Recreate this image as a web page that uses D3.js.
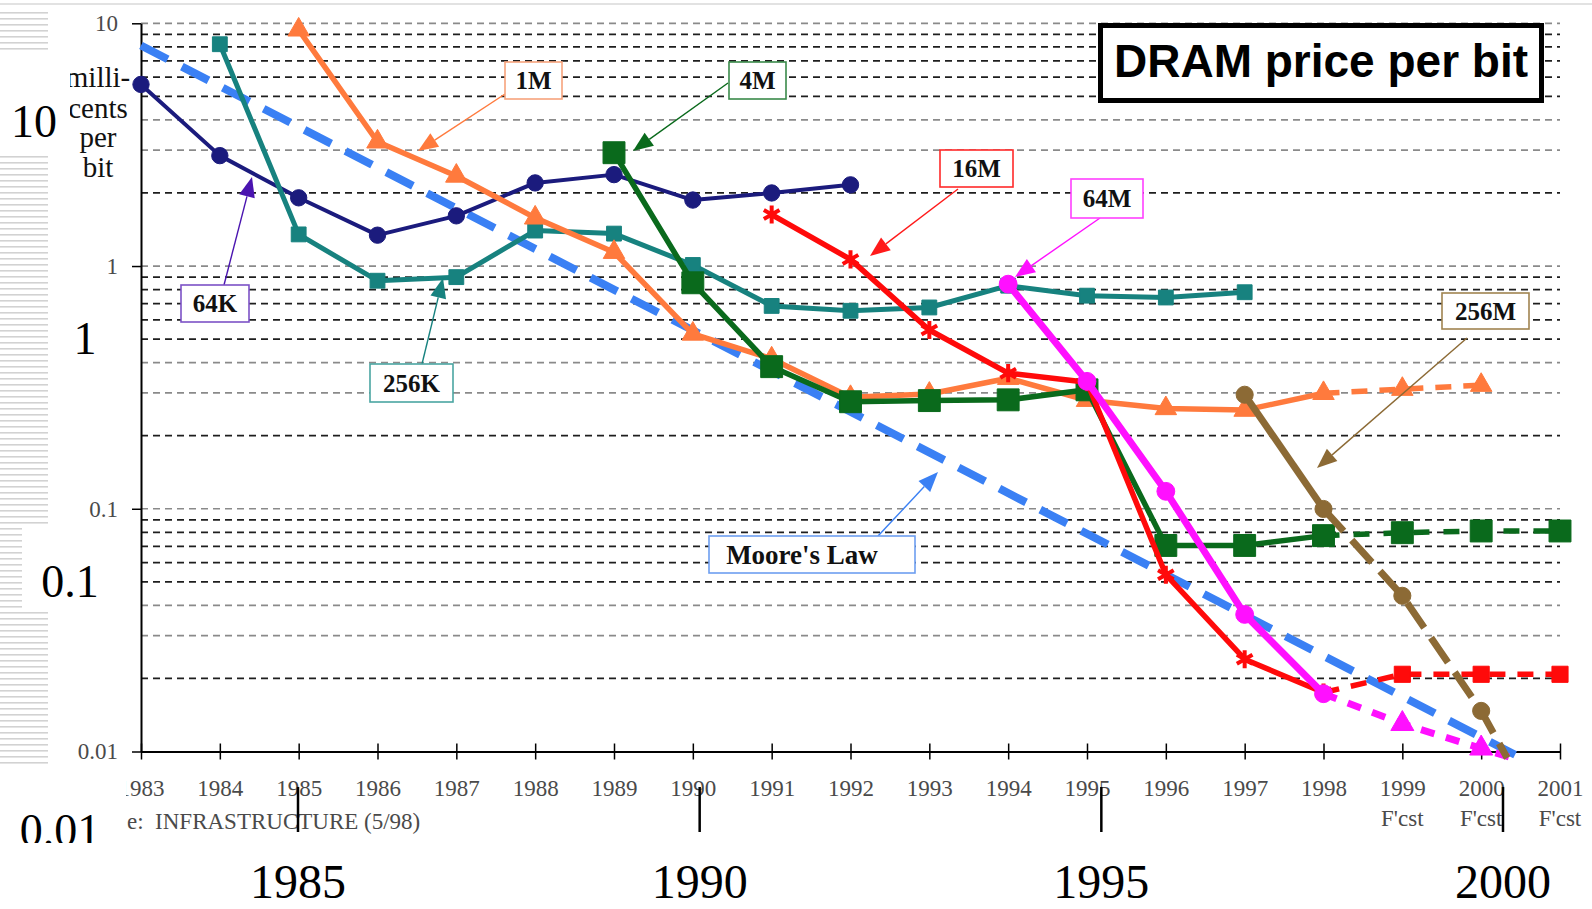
<!DOCTYPE html>
<html>
<head>
<meta charset="utf-8">
<script src="https://cdn.jsdelivr.net/npm/d3@7"></script>
<style>
  body { margin: 0; background: #fff; }
  svg { display: block; }
</style>
</head>
<body>
<svg id="chart"></svg>
<script>
"use strict";
// values (millicents per bit)
var yearsMoore = [1983, 2000.43];
var priceMoore = [8.1, 0.0097];

var years64K = [1983, 1984, 1985, 1986, 1987, 1988, 1989, 1990, 1991, 1992];
var price64K = [5.6, 2.85, 1.91, 1.34, 1.61, 2.2, 2.38, 1.87, 2.0, 2.16];

var years256K = [1984, 1985, 1986, 1987, 1988, 1989, 1990, 1991, 1992, 1993, 1994, 1995, 1996, 1997];
var price256K = [8.2, 1.35, 0.87, 0.9, 1.4, 1.36, 1.01, 0.685, 0.654, 0.675, 0.83, 0.755, 0.742, 0.78];

var years1M = [1985, 1986, 1987, 1988, 1989, 1990, 1991, 1992, 1993, 1994, 1995, 1996, 1997, 1998, 1999, 2000];
var price1M = [9.4, 3.25, 2.35, 1.58, 1.14, 0.525, 0.415, 0.288, 0.297, 0.345, 0.28, 0.259, 0.255, 0.299, 0.311, 0.323];

var years4M = [1989, 1990, 1991, 1992, 1993, 1994, 1995, 1996, 1997, 1998, 1999, 2000, 2001];
var price4M = [2.93, 0.853, 0.385, 0.276, 0.279, 0.281, 0.309, 0.0706, 0.0706, 0.0775, 0.0797, 0.081, 0.081];

var years16M = [1991, 1992, 1993, 1994, 1995, 1996, 1997, 1998, 1999, 2000, 2001];
var price16M = [1.63, 1.065, 0.545, 0.362, 0.332, 0.0535, 0.024, 0.0175, 0.0208, 0.0208, 0.0208];

var years64M = [1994, 1995, 1996, 1997, 1998, 1999, 2000, 2000.4];
var price64M = [0.842, 0.335, 0.118, 0.0367, 0.0173, 0.013, 0.0103, 0.0094];

var years256M = [1997, 1998, 1999, 2000, 2000.33];
var price256M = [0.295, 0.0998, 0.0438, 0.0147, 0.0094];

var tickYears = [1983, 1984, 1985, 1986, 1987, 1988, 1989, 1990, 1991, 1992,
                 1993, 1994, 1995, 1996, 1997, 1998, 1999, 2000, 2001];
var forecastYears = [1999, 2000, 2001];
var forecastFrom = 1998;
var yTickValues = [10, 1, 0.1, 0.01];
var bigXLabels = [1985, 1990, 1995, 2000];
var bigYLabels = [10, 1, 0.1, 0.01];

var W = 1592, H = 909;
var svg = d3.select("#chart").attr("width", W).attr("height", H);

var x = d3.scaleLinear().domain([1983, 2001]).range([141, 1560]);
var y = d3.scaleLog().domain([0.01, 10]).range([751.5, 23.3]);
// the slide's own (larger) axis labels sit on a slightly different grid
var bigX = d3.scaleLinear().domain([1985, 2000]).range([298, 1503]);
var bigY = d3.scaleLinear().domain([1, 0, -1, -2]).range([137, 354, 597, 846]);

var serif = "'Liberation Serif', 'Times New Roman', serif";

// faint line along the top of the slide
svg.append("rect").attr("x", 0).attr("y", 3).attr("width", W).attr("height", 2).attr("fill", "#e2e2e2");

// striped strip on the left edge
var defs = svg.append("defs");
var pat = defs.append("pattern").attr("id", "stripes").attr("patternUnits", "userSpaceOnUse")
  .attr("width", 10).attr("height", 6);
pat.append("rect").attr("width", 10).attr("height", 1.6).attr("fill", "#d2d2d2");
svg.append("rect").attr("x", 0).attr("y", 11).attr("width", 48).attr("height", 758).attr("fill", "url(#stripes)");

var plot = svg.append("g");

// dashed log grid
var gridVals = y.ticks().filter(function(v) { return v > 0.0101; });
plot.selectAll(".grid").data(gridVals).enter().append("line")
  .attr("x1", x(1983)).attr("x2", x(2001))
  .attr("y1", function(d) { return y(d); }).attr("y2", function(d) { return y(d); })
  .attr("stroke", function(d) {
    var m = Math.round(d / Math.pow(10, Math.floor(Math.log10(d) + 1e-9)));
    return (m == 1 || m == 3 || m == 4) ? "#8a8a8a" : "#1e1e1e";
  })
  .attr("stroke-width", 1.7).attr("stroke-dasharray", "7,5");

// axes
var yAxis = plot.append("g").attr("transform", "translate(" + x(1983) + ",0)")
  .call(d3.axisLeft(y).tickValues(yTickValues).tickSize(9).tickSizeOuter(0)
    .tickFormat(function(d) { return d3.format("~g")(d); }));
yAxis.select(".domain").attr("stroke", "#000").attr("stroke-width", 2);
yAxis.selectAll(".tick line").attr("stroke", "#000").attr("stroke-width", 1.5);
yAxis.selectAll(".tick text").attr("x", -23).attr("font-family", serif).attr("font-size", 23).attr("fill", "#4a4a4a");

var xAxis = plot.append("g").attr("transform", "translate(0," + y(0.01) + ")")
  .call(d3.axisBottom(x).tickValues(tickYears).tickSize(8).tickSizeOuter(0).tickFormat(d3.format("d")));
xAxis.select(".domain").attr("stroke", "#000").attr("stroke-width", 2);
xAxis.selectAll(".tick line").attr("y1", -8).attr("stroke", "#000").attr("stroke-width", 1.5);
xAxis.selectAll(".tick text").attr("y", 44).attr("dy", null)
  .attr("font-family", serif).attr("font-size", 23).attr("fill", "#4a4a4a");
xAxis.selectAll(".fcst").data(forecastYears).enter().append("text")
  .attr("x", function(d) { return x(d); }).attr("y", 74).attr("text-anchor", "middle")
  .attr("font-family", serif).attr("font-size", 23).attr("fill", "#4a4a4a").text("F'cst");

// y axis title
var ylab = ["milli-", "cents", "per", "bit"];
var ylabBase = [87, 118, 147, 177];
plot.selectAll(".ylab").data(ylab).enter().append("text")
  .attr("x", 98).attr("y", function(d, i) { return ylabBase[i]; })
  .attr("text-anchor", "middle").attr("font-family", serif).attr("font-size", 29).attr("fill", "#111")
  .text(function(d) { return d; });

// source note (its start is hidden under the big 0.01 patch)
plot.append("text").attr("x", 127).attr("y", 829)
  .attr("font-family", serif).attr("font-size", 23).attr("fill", "#4a4a4a")
  .attr("xml:space", "preserve").text("e:  INFRASTRUCTURE (5/98)");

// series
var series = [
  { years: years64K, price: price64K, color: "#1b1b7d", width: 4, shape: d3.symbolCircle, size: 210 },
  { years: years256K, price: price256K, color: "#17827f", width: 5, shape: d3.symbolSquare, size: 220 },
  { years: years1M, price: price1M, color: "#ff7a3d", width: 5.5, shape: d3.symbolTriangle, size: 200, dash: "16,12" },
  { years: years4M, price: price4M, color: "#0a6a1c", width: 5.5, shape: d3.symbolSquare, size: 480, dash: "16,14" },
  { years: years16M, price: price16M, color: "#ff0a0a", width: 5.5, shape: d3.symbolAsterisk, size: 230,
    fshape: d3.symbolSquare, fsize: 260, dash: "16,12" },
  { years: years64M, price: price64M, color: "#ff10ff", width: 7, shape: d3.symbolCircle, size: 250,
    fshape: d3.symbolTriangle, fsize: 230, dash: "14,12" },
  { years: years256M, price: price256M, color: "#8c6a35", width: 7, shape: d3.symbolCircle, size: 230, dash: "30,12" }
];

var line = d3.line().x(function(d) { return x(d.yr); }).y(function(d) { return y(d.v); });

// Moore's law reference line, behind everything
plot.append("path")
  .attr("d", line(yearsMoore.map(function(yr, i) { return { yr: yr, v: priceMoore[i] }; })))
  .attr("fill", "none").attr("stroke", "#3a80f4").attr("stroke-width", 8)
  .attr("stroke-dasharray", "30,16");

series.forEach(function(s) {
  var p = s.years.map(function(yr, i) { return { yr: yr, v: s.price[i] }; });
  var solid = p.filter(function(d) { return d.yr <= forecastFrom; });
  var dashed = p.filter(function(d) { return d.yr >= forecastFrom; });
  var g = plot.append("g");
  if (solid.length > 1) {
    g.append("path").attr("d", line(solid)).attr("fill", "none").attr("stroke", s.color)
      .attr("stroke-width", s.width).attr("stroke-linejoin", "round");
  }
  if (dashed.length > 1) {
    g.append("path").attr("d", line(dashed)).attr("fill", "none").attr("stroke", s.color)
      .attr("stroke-width", s.width).attr("stroke-dasharray", s.dash);
  }
  g.selectAll(".m").data(p.filter(function(d) { return Number.isInteger(d.yr); })).enter().append("path")
    .attr("transform", function(d) { return "translate(" + x(d.yr) + "," + y(d.v) + ")"; })
    .attr("d", function(d) {
      var fc = d.yr > forecastFrom && s.fshape;
      return d3.symbol().type(fc ? s.fshape : s.shape).size(fc ? s.fsize : s.size)();
    })
    .attr("fill", s.color).attr("stroke", s.color)
    .attr("stroke-width", function(d) { return (s.shape == d3.symbolAsterisk && !(d.yr > forecastFrom)) ? 4 : 1; });
});

// call-out labels
var notes = [
  { text: "1M", box: [505, 62, 57, 37], color: "#ff7a3d", border: "#f7a37c", from: [505, 94], to: [418, 151] },
  { text: "4M", box: [729, 62, 57, 37], color: "#0a6a1c", border: "#3a8a4a", from: [728, 83], to: [633, 151] },
  { text: "16M", box: [940, 150, 73, 37], color: "#ff1a1a", border: "#ff2a2a", from: [958, 189], to: [870, 256] },
  { text: "64M", box: [1071, 179, 72, 39], color: "#ff10ff", border: "#ff40ff", from: [1100, 218], to: [1015, 277] },
  { text: "64K", box: [181, 285, 68, 37], color: "#4a14b0", border: "#7c52c6", from: [224, 285], to: [252, 177] },
  { text: "256K", box: [370, 364, 83, 38], color: "#17827f", border: "#4aa5a2", from: [422, 364], to: [443, 278] },
  { text: "256M", box: [1442, 293, 87, 36], color: "#8c6a35", border: "#a08450", from: [1467, 338], to: [1317, 468] },
  { text: "Moore's Law", box: [709, 536, 206, 37], color: "#3a80f4", border: "#6d9ef0", from: [878, 536], to: [938, 472], fs: 27, dx: -10 }
];

notes.forEach(function(n) {
  var dx = n.to[0] - n.from[0], dy = n.to[1] - n.from[1];
  var L = Math.sqrt(dx * dx + dy * dy), ux = dx / L, uy = dy / L;
  var bx = n.to[0] - ux * 20, by = n.to[1] - uy * 20;
  plot.append("line").attr("x1", n.from[0]).attr("y1", n.from[1]).attr("x2", bx).attr("y2", by)
    .attr("stroke", n.color).attr("stroke-width", 1.4);
  plot.append("path")
    .attr("d", "M" + n.to[0] + "," + n.to[1] + "L" + (bx - uy * 8) + "," + (by + ux * 8) +
      "L" + (bx + uy * 8) + "," + (by - ux * 8) + "Z")
    .attr("fill", n.color);
  plot.append("rect").attr("x", n.box[0]).attr("y", n.box[1]).attr("width", n.box[2]).attr("height", n.box[3])
    .attr("fill", "#fff").attr("stroke", n.border).attr("stroke-width", 1.6);
  plot.append("text").attr("x", n.box[0] + n.box[2] / 2 + (n.dx || 0)).attr("y", n.box[1] + n.box[3] / 2)
    .attr("dy", "0.34em").attr("text-anchor", "middle")
    .attr("font-family", serif).attr("font-weight", "bold").attr("font-size", n.fs || 25)
    .attr("fill", "#111").text(n.text);
});

// chart title box
plot.append("rect").attr("x", 1100.5).attr("y", 25.5).attr("width", 441).attr("height", 75)
  .attr("fill", "#fff").attr("stroke", "#000").attr("stroke-width", 5);
plot.append("text").attr("x", 1321).attr("y", 77).attr("text-anchor", "middle")
  .attr("font-family", "'Liberation Sans', Arial, sans-serif").attr("font-weight", "bold")
  .attr("font-size", 46).attr("fill", "#000").text("DRAM price per bit");

// the slide's big axis labels, each on its own white patch
var patches = [[0, 54, 70, 100], [22, 526, 83, 82], [0, 768, 126, 112]];
svg.selectAll(".patch").data(patches).enter().append("rect")
  .attr("x", function(d) { return d[0]; }).attr("y", function(d) { return d[1]; })
  .attr("width", function(d) { return d[2]; }).attr("height", function(d) { return d[3]; })
  .attr("fill", "#fff");

var bigYX = [34, 85, 70, 60];
svg.selectAll(".bigy").data(bigYLabels).enter().append("text")
  .attr("x", function(d, i) { return bigYX[i]; })
  .attr("y", function(d) { return bigY(Math.log10(d)); })
  .attr("text-anchor", "middle").attr("font-family", serif).attr("font-size", 46).attr("fill", "#000")
  .text(function(d) { return String(d); });
// bottom of the big 0.01 is cropped on the slide
svg.append("rect").attr("x", 10).attr("y", 843).attr("width", 100).attr("height", 20).attr("fill", "#fff");

svg.selectAll(".bigtick").data(bigXLabels).enter().append("line")
  .attr("x1", function(d) { return bigX(d); }).attr("x2", function(d) { return bigX(d); })
  .attr("y1", 787).attr("y2", 832).attr("stroke", "#000").attr("stroke-width", 2.5);
svg.selectAll(".bigx").data(bigXLabels).enter().append("text")
  .attr("x", function(d) { return bigX(d); }).attr("y", 898)
  .attr("text-anchor", "middle").attr("font-family", serif).attr("font-size", 48).attr("fill", "#000")
  .text(function(d) { return d; });
</script>
</body>
</html>
